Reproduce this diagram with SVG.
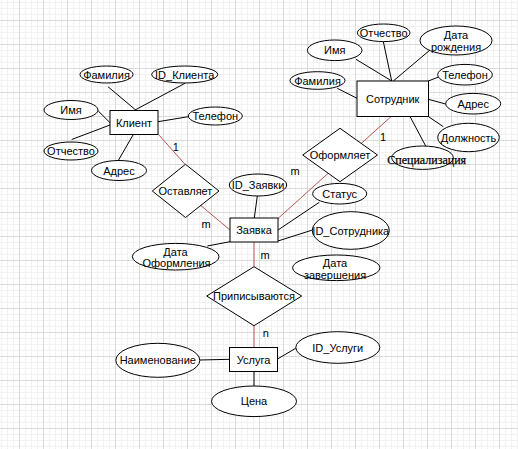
<svg xmlns="http://www.w3.org/2000/svg" width="518" height="449" viewBox="0 0 518 449">
<defs>
<pattern id="grid" x="19" y="20" width="24" height="24" patternUnits="userSpaceOnUse">
<path d="M6.5 0V24M12.5 0V24M18.5 0V24M0 6.5H24M0 12.5H24M0 18.5H24" stroke="#f1f1f1" stroke-width="1" fill="none"/>
<path d="M0.5 0V24M0 0.5H24" stroke="#dadada" stroke-width="1" fill="none"/>
</pattern>
<style>
.s{fill:#fff;stroke:#000;stroke-width:1}
.t{font-family:"Liberation Sans",Arial,sans-serif;font-size:11px;fill:#000;text-anchor:middle;dominant-baseline:central}
.ts{font-family:"Liberation Serif","Times New Roman",serif;font-size:12px;fill:#000;text-anchor:middle;dominant-baseline:central}
.l{stroke:#000;stroke-width:1;fill:none}
.r{stroke:#b85450;stroke-width:1;fill:none}
</style>
</defs>
<rect width="518" height="449" fill="#fff"/>
<rect width="518" height="449" fill="url(#grid)"/>
<g id="connectors">
<line class="l" x1="108" y1="86.7" x2="135.7" y2="110"/>
<line class="l" x1="185" y1="83.3" x2="135" y2="110"/>
<line class="l" x1="98.3" y1="111" x2="110" y2="122.7"/>
<line class="l" x1="71.7" y1="139.5" x2="110" y2="125"/>
<line class="l" x1="118.3" y1="160.5" x2="133.3" y2="134.5"/>
<line class="l" x1="158" y1="121.7" x2="188.3" y2="116.7"/>
<line class="r" x1="158.3" y1="134.3" x2="185" y2="164.3"/>
<line class="r" x1="201" y1="205.7" x2="230" y2="230"/>
<line class="r" x1="391.7" y1="116" x2="278" y2="218.5"/>
<line class="r" x1="254" y1="242" x2="254" y2="266.7"/>
<line class="r" x1="254" y1="325.7" x2="254" y2="347.5"/>
<line class="l" x1="257.3" y1="196" x2="254.3" y2="218"/>
<line class="l" x1="319.3" y1="202.3" x2="278" y2="230"/>
<line class="l" x1="312.5" y1="230" x2="278" y2="241"/>
<line class="l" x1="207.3" y1="246" x2="230" y2="241.7"/>
<line class="l" x1="383.3" y1="41.5" x2="391.7" y2="81"/>
<line class="l" x1="356" y1="59.3" x2="391.7" y2="81"/>
<line class="l" x1="430" y1="50" x2="393.3" y2="81"/>
<line class="l" x1="337.3" y1="88.3" x2="357" y2="98.3"/>
<line class="l" x1="439.3" y1="76.7" x2="428.3" y2="81"/>
<line class="l" x1="445.7" y1="104" x2="428.3" y2="99.3"/>
<line class="l" x1="443.3" y1="126.7" x2="428.3" y2="116.5"/>
<line class="l" x1="425.7" y1="146" x2="410" y2="116.5"/>
<line class="l" x1="200" y1="360" x2="229.5" y2="359.3"/>
<line class="l" x1="295.7" y1="348.3" x2="277.5" y2="359"/>
<line class="l" x1="254" y1="371.5" x2="254" y2="386"/>
</g>
<g id="labels">
<text class="t" x="175.7" y="146.7">1</text>
<text class="t" x="206" y="224">m</text>
<text class="t" x="295" y="171">m</text>
<text class="t" x="383" y="137.3">1</text>
<text class="t" x="265" y="255">m</text>
<text class="t" x="265.7" y="332.7">n</text>
</g>
<g id="klient"><rect class="s" x="110" y="110.5" width="48" height="24"/><text class="t" x="134" y="122.5">Клиент</text></g>
<g id="k_familiya"><ellipse class="s" cx="106.5" cy="74.5" rx="26.5" ry="8.5"/><text class="t" x="106.5" y="74.5">Фамилия</text></g>
<g id="k_id"><ellipse class="s" cx="184.7" cy="74.5" rx="33" ry="8.5"/><text class="t" x="184.7" y="74.5">ID_Клиента</text></g>
<g id="k_imya"><ellipse class="s" cx="71" cy="110" rx="27" ry="9.5"/><text class="t" x="71" y="110">Имя</text></g>
<g id="k_telefon"><ellipse class="s" cx="215.3" cy="116" rx="27" ry="9"/><text class="t" x="215.3" y="116">Телефон</text></g>
<g id="k_otchestvo"><ellipse class="s" cx="71" cy="151" rx="27" ry="9"/><text class="t" x="71" y="151">Отчество</text></g>
<g id="k_adres"><ellipse class="s" cx="119" cy="170.5" rx="27.5" ry="10"/><text class="t" x="119" y="170.5">Адрес</text></g>
<g id="ostavlyaet"><polygon class="s" points="185.5,164.3 219,191 185.5,217.5 152.3,191"/><text class="t" x="185.5" y="191">Оставляет</text></g>
<g id="oformlyaet"><polygon class="s" points="340,128.3 377.5,155 340,181.7 302.7,155"/><text class="t" x="340" y="155">Оформляет</text></g>
<g id="sotrudnik"><rect class="s" x="357" y="81" width="71.5" height="35.5"/><text class="t" x="392.7" y="98.7">Сотрудник</text></g>
<g id="s_otchestvo"><ellipse class="s" cx="383.7" cy="32.8" rx="26.3" ry="8.8"/><text class="t" x="383.7" y="32.8">Отчество</text></g>
<g id="s_imya"><ellipse class="s" cx="334.7" cy="50.3" rx="27.3" ry="10.3"/><text class="t" x="334.7" y="50.3">Имя</text></g>
<g id="s_data"><ellipse class="s" cx="456" cy="40.5" rx="36" ry="14.5"/><text class="t" x="456" y="34.8">Дата</text><text class="t" x="456" y="46.5">рождения</text></g>
<g id="s_familiya"><ellipse class="s" cx="317.5" cy="80.5" rx="27.5" ry="8.8"/><text class="t" x="317.5" y="80.5">Фамилия</text></g>
<g id="s_telefon"><ellipse class="s" cx="465" cy="74.7" rx="27.3" ry="10.3"/><text class="t" x="465" y="74.7">Телефон</text></g>
<g id="s_adres"><ellipse class="s" cx="473.2" cy="103.7" rx="27.5" ry="10.3"/><text class="t" x="473.2" y="103.7">Адрес</text></g>
<g id="s_dolzhnost"><ellipse class="s" cx="468.5" cy="137.5" rx="30.8" ry="14.2"/><text class="t" x="468.5" y="137.5">Должность</text></g>
<g id="s_spec"><ellipse class="s" cx="422.5" cy="157.7" rx="30.8" ry="11.7"/><text class="ts" x="426.7" y="159.5" stroke="#000" stroke-width="0.25">Специализация</text></g>
<g id="zayavka"><rect class="s" x="230" y="218" width="48" height="24"/><text class="t" x="254" y="230">Заявка</text></g>
<g id="z_id"><ellipse class="s" cx="258" cy="185" rx="28.7" ry="11"/><text class="t" x="258" y="185">ID_Заявки</text></g>
<g id="z_status"><ellipse class="s" cx="339.7" cy="193.7" rx="27" ry="10.3"/><text class="t" x="339.7" y="193.7">Статус</text></g>
<g id="z_idsotr"><ellipse class="s" cx="350.8" cy="230.5" rx="38.5" ry="18.8"/><text class="t" x="350.8" y="230.5">ID_Сотрудника</text></g>
<g id="z_dataof"><ellipse class="s" cx="175.7" cy="256.7" rx="43.3" ry="13.3"/><text class="t" x="175.5" y="251.5">Дата</text><text class="t" x="176.5" y="263">Оформления</text></g>
<g id="z_datazav"><ellipse class="s" cx="336.3" cy="267.8" rx="43.7" ry="12.8"/><text class="t" x="335" y="263">Дата</text><text class="t" x="335" y="274.5">завершения</text></g>
<g id="pripisyvayutsya"><polygon class="s" points="254,266.7 301.7,296 254,325.7 206.7,296"/><text class="t" x="254" y="296">Приписываются</text></g>
<g id="usluga"><rect class="s" x="229.5" y="347.5" width="48" height="24"/><text class="t" x="253.5" y="359.5">Услуга</text></g>
<g id="u_naim"><ellipse class="s" cx="157.8" cy="360.3" rx="42" ry="17"/><text class="t" x="157.8" y="360.3">Наименование</text></g>
<g id="u_id"><ellipse class="s" cx="337.8" cy="347.5" rx="42" ry="15.8"/><text class="t" x="337.8" y="347.5">ID_Услуги</text></g>
<g id="u_cena"><ellipse class="s" cx="254" cy="401.3" rx="42.5" ry="15.3"/><text class="t" x="254" y="401.3">Цена</text></g>
</svg>
